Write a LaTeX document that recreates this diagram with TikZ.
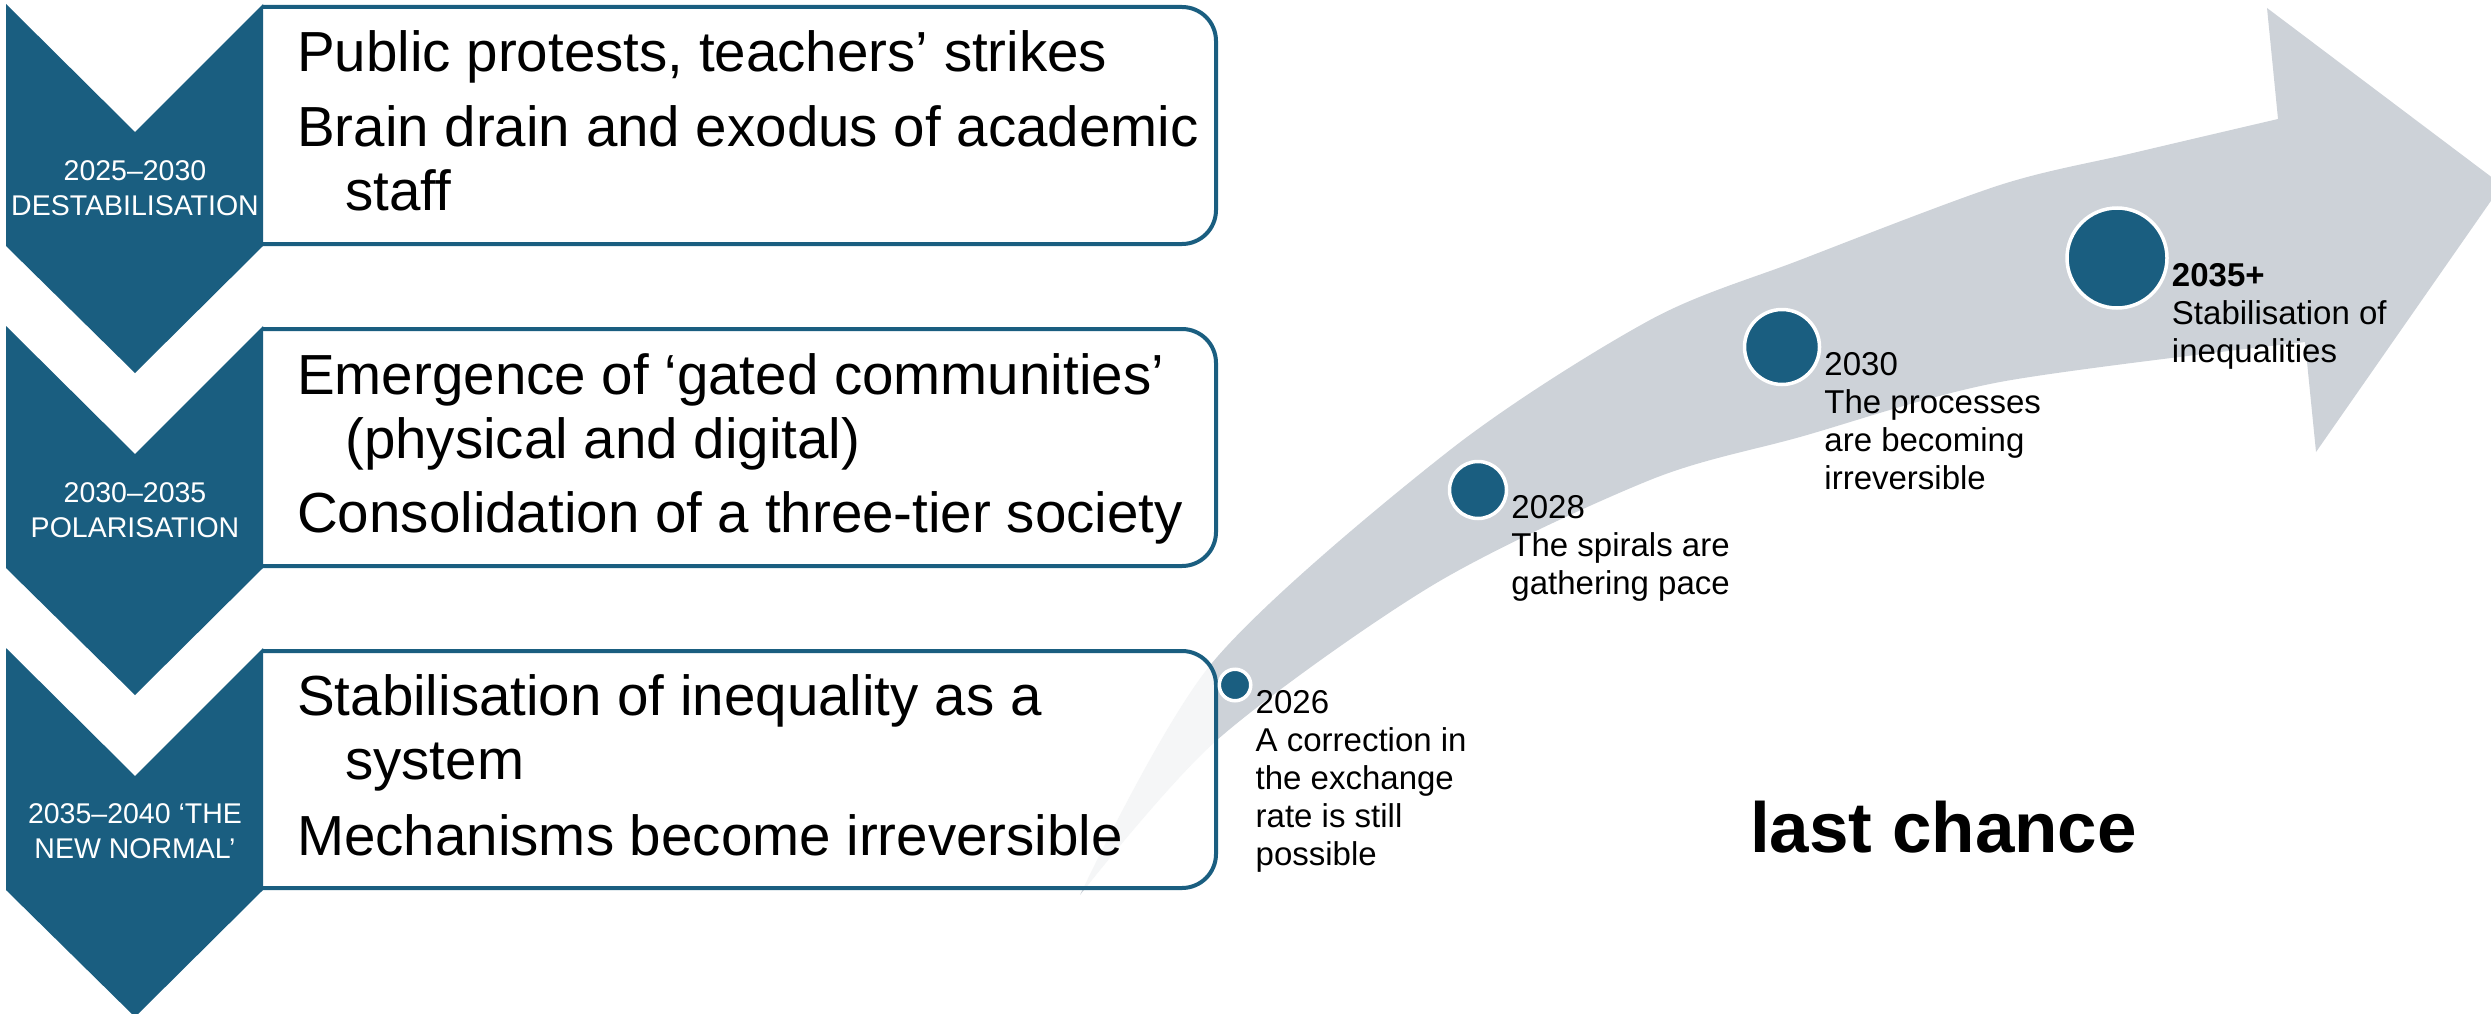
\documentclass[tikz,border=0pt]{standalone}
\usepackage{fontspec}
\setmainfont{Liberation Sans}
\usetikzlibrary{positioning}
\definecolor{stageblue}{HTML}{1A5E80}
\definecolor{arrowgrey}{HTML}{CDD2D8}

\begin{document}
\begin{tikzpicture}[x=1pt,y=-1pt,
  chevron/.style={fill=stageblue},
  stagelabel/.style={text=white,align=center,inner sep=0pt,anchor=base,font=\fontsize{28.5}{35}\selectfont},
  stagebox/.style={draw=stageblue,line width=4pt,rounded corners=34pt,fill=white,fill opacity=0.8},
  stagetext/.style={align=left,inner sep=0pt,anchor=base west,font=\fontsize{56.5}{64}\selectfont},
  milestone/.style={circle,fill=stageblue,draw=white,line width=3.5pt,inner sep=0pt},
  mtext/.style={align=left,inner sep=0pt,anchor=base west,font=\fontsize{33}{38}\selectfont}
]
\useasboundingbox (0,0) rectangle (2491,1014);

\fill[arrowgrey] plot[smooth] coordinates {(1080,895) (1212,663) (1450,450) (1650,320) (1800,260) (2000,185) (2133,153) (2278,119)}
  -- (2267,8) -- (2502,185) -- (2316,452) -- (2305,342)
  -- plot[smooth] coordinates {(2305,342) (2000,382) (1800,437) (1650,480) (1433,585) (1217,740) (1080,895)} -- cycle;

\draw[stagebox] (263,7) -- (1216,7) -- (1216,244) -- (263,244);
\draw[stagebox] (263,329) -- (1216,329) -- (1216,566) -- (263,566);
\draw[stagebox] (263,651) -- (1216,651) -- (1216,888) -- (263,888);

\fill[chevron] (6,4) -- (135,132) -- (263,4) -- (263,246) -- (135,373) -- (6,246) -- cycle;
\fill[chevron] (6,326) -- (135,454) -- (263,326) -- (263,568) -- (135,695) -- (6,568) -- cycle;
\fill[chevron] (6,648) -- (135,776) -- (263,648) -- (263,890) -- (135,1017) -- (6,890) -- cycle;

\node[stagelabel] (lab1) at (135,215) {2025–2030\\DESTABILISATION};
\node[stagelabel] (lab2) at (135,537) {2030–2035\\POLARISATION};
\node[stagelabel] (lab3) at (135,858) {2035–2040 ‘THE\\NEW NORMAL’};

\node[stagetext] (txt1) at (297,210) {Public protests, teachers’ strikes\\[11pt]Brain drain and exodus of academic\\\hspace*{48pt}staff};
\node[stagetext] (txt2) at (297,532) {Emergence of ‘gated communities’\\\hspace*{48pt}(physical and digital)\\[10pt]Consolidation of a three-tier society};
\node[stagetext] (txt3) at (297,855) {Stabilisation of inequality as a\\\hspace*{48pt}system\\[12pt]Mechanisms become irreversible};

\node[milestone,minimum size=31.5pt] (m2026) at (1235,685) {};
\node[milestone,minimum size=57pt] (m2028) at (1478,490) {};
\node[milestone,minimum size=75pt] (m2030) at (1782,347) {};
\node[milestone,minimum size=100pt] (m2035) at (2117,258) {};

\node[mtext] (t2026) at ([shift={(3,180)}]m2026.east) {2026\\A correction in\\the exchange\\rate is still\\possible};
\node[mtext] (t2028) at ([shift={(3,104)}]m2028.east) {2028\\The spirals are\\gathering pace};
\node[mtext] (t2030) at ([shift={(3,142)}]m2030.east) {2030\\The processes\\are becoming\\irreversible};
\node[mtext] (t2035) at ([shift={(3,104)}]m2035.east) {\textbf{2035+}\\Stabilisation of\\inequalities};

\node[inner sep=0pt,anchor=base west,font=\fontsize{71}{80}\selectfont\bfseries] (last) at (1750,852) {last chance};
\end{tikzpicture}
\end{document}
